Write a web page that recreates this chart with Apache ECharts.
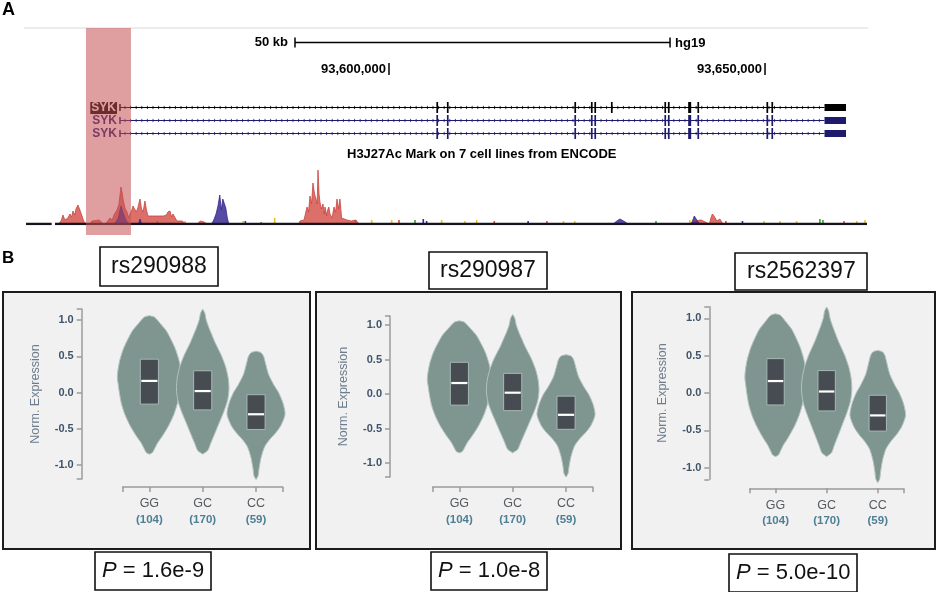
<!DOCTYPE html>
<html><head><meta charset="utf-8">
<script src="https://cdn.jsdelivr.net/npm/echarts@6/dist/echarts.min.js"></script>
<style>html,body{margin:0;padding:0;background:#fff}#c{width:939px;height:592px}</style>
</head><body><div id="c"></div>
<script>
// ================= DATA =================
// Panel A: genomic positions in kb relative to chr9:93,600,000 (hg19)
const chromBaseBp = 93600000;
const viewKb = [-48.40, 63.56];
const highlightKb = [-40.29, -34.31];
const scaleBarKb = [-12.5, 37.37];
const scaleBarLabel = '50 kb';
const assemblyLabel = 'hg19';
const rulerTicksKb = [0, 50];
const geneName = 'SYK';
const intronSpanKb = [-35.77, 57.91];
const utrBlockKb = [57.91, 60.77];
const exonsT1Kb = [[6.30,6.46],[7.70,7.86],[24.65,24.81],[26.85,27.01],[27.31,27.47],[29.51,29.67],[36.62,36.78],[37.09,37.25],[39.78,40.18],[41.01,41.17],[50.19,50.35],[50.85,51.01]];
const exonsT2Kb = [[6.30,6.46],[7.70,7.86],[24.65,24.81],[26.85,27.01],[27.31,27.47],[36.62,36.78],[37.09,37.25],[39.78,40.18],[41.01,41.17],[50.19,50.35],[50.85,51.01]];
const exonsT3Kb = [[6.30,6.46],[7.70,7.86],[24.65,24.81],[26.85,27.01],[27.31,27.47],[36.62,36.78],[37.09,37.25],[39.78,40.18],[41.01,41.17],[50.19,50.35],[50.85,51.01]];
const trackTitle = 'H3J27Ac Mark on 7 cell lines from ENCODE';
const baselineSegmentsKb = [[-48.27,-44.85],[-44.41,63.56]];
const signalRed = [[-44.0,0],[-43.6,3],[-43.35,9],[-43.1,4],[-42.7,6],[-42.42,10],[-42.2,7],[-42.02,13],[-41.8,9],[-41.62,15],[-41.36,19],[-41.1,14],[-40.82,8],[-40.6,3],[-40.3,0],
 [-39.8,0],[-39.5,3],[-38.5,4],[-38.0,0],
 [-37.7,0],[-37.4,3],[-37.10,6],[-36.8,4],[-36.57,9],[-36.17,14],[-35.90,20],[-35.64,37],[-35.45,30],[-35.37,25],[-35.11,16],[-34.84,12],[-34.6,6],[-34.44,10],[-34.2,14],[-34.04,18],[-33.78,20],[-33.6,12],[-33.4,16],[-33.11,25],[-32.9,15],[-32.7,12],[-32.45,23],[-32.25,14],[-32.05,8],[-31.78,8],[-30.0,8],[-29.8,6],[-29.6,9],[-29.39,12],[-29.12,13],[-28.9,7],[-28.72,10],[-28.46,8],[-28.2,3],[-27.5,3],[-27.0,0],
 [-25.5,0],[-25.1,3],[-24.6,2],[-24.2,0],
 [-12.0,0],[-11.84,3],[-11.3,4],[-10.90,17],[-10.7,12],[-10.51,28],[-10.3,20],[-10.11,41],[-9.9,30],[-9.71,25],[-9.55,20],[-9.44,54],[-9.3,30],[-9.18,22],[-9.0,15],[-8.78,20],[-8.6,10],[-8.51,17],[-8.3,8],[-8.24,12],[-8.0,17],[-7.85,10],[-7.58,6],[-7.31,17],[-7.1,12],[-6.91,25],[-6.7,15],[-6.52,25],[-6.3,6],[-6.12,5],[-5.59,4],[-5.0,3],[-4.39,4],[-4.0,0],
 [40.0,0],[40.5,3],[41.5,4],[42.6,0],[42.8,6],[43.0,10],[43.3,7],[43.6,3],[44.0,5],[44.4,0]];
const signalPurple = [[-36.5,0],[-36.0,6],[-35.64,18],[-35.3,10],[-35.0,4],[-34.6,0],
 [-33.3,0],[-33.1,5],[-32.9,0],
 [-23.6,0],[-23.3,4],[-23.0,10],[-22.74,18],[-22.5,29],[-22.3,14],[-22.1,25],[-21.94,27],[-21.7,16],[-21.5,6],[-21.3,0],
 [29.8,0],[30.3,3],[30.7,5],[31.2,3],[31.8,0],
 [40.2,0],[40.6,8],[41.0,3],[41.3,0]];
const noiseYellow = [[-27.1,3],[-19.4,3],[-15.2,6],[-2.3,4],[0.36,4],[7.0,4],[10.1,3],[11.66,4],[23.2,3],[24.7,3],[40.0,4],[49.87,3],[52.0,3],[54.2,3],[62.2,3],[63.3,4]];
const noiseGreen = [[3.46,4],[57.3,5],[57.7,4],[35.5,3],[-17.0,2]];
const noiseBlue = [[-19.1,3],[4.56,5],[5.0,3],[-30.8,3],[18.5,3],[47.0,3]];
const noiseRed = [[-4.5,4],[1.33,4],[14.0,3],[21.0,3],[44.8,3],[60.5,3]];

// Panel B: eQTL violins (same SYK expression data for the 3 SNPs)
const snpIds = ['rs290988', 'rs290987', 'rs2562397'];
const pValues = ['1.6e-9', '1.0e-8', '5.0e-10'];
const genotypes = ['GG', 'GC', 'CC'];
const sampleCounts = [104, 170, 59];
const ggLevels = [1.06, 1.04, 0.95, 0.85, 0.72, 0.60, 0.45, 0.30, 0.20, 0.10, 0.00, -0.15, -0.30, -0.45, -0.60, -0.70, -0.78, -0.83, -0.85];
const ggHalfWidth = [0, 0.094, 0.206, 0.319, 0.413, 0.488, 0.553, 0.591, 0.600, 0.582, 0.563, 0.525, 0.460, 0.366, 0.244, 0.150, 0.094, 0.056, 0];
const gcLevels = [1.15, 1.10, 1.00, 0.90, 0.80, 0.70, 0.60, 0.50, 0.35, 0.20, 0.05, -0.10, -0.25, -0.40, -0.55, -0.70, -0.80, -0.85];
const gcHalfWidth = [0, 0.038, 0.066, 0.113, 0.169, 0.225, 0.291, 0.356, 0.432, 0.478, 0.493, 0.469, 0.403, 0.319, 0.235, 0.150, 0.094, 0];
const ccLevels = [0.57, 0.55, 0.50, 0.40, 0.25, 0.10, 0.00, -0.15, -0.30, -0.45, -0.55, -0.65, -0.75, -0.90, -1.05, -1.15, -1.20];
const ccHalfWidth = [0, 0.094, 0.141, 0.178, 0.235, 0.338, 0.422, 0.507, 0.544, 0.469, 0.375, 0.253, 0.159, 0.094, 0.056, 0.038, 0];
const boxQ1 = [-0.16, -0.24, -0.51];
const boxMedian = [0.16, 0.02, -0.30];
const boxQ3 = [0.46, 0.30, -0.03];
const yTickLabels = [-1.0, -0.5, 0.0, 0.5, 1.0];

// ================= BUILD =================
const FONT = '"Liberation Sans", Arial, Helvetica, sans-serif';
const chart = echarts.init(document.getElementById('c'), null, {renderer: 'canvas'});

function fmtBp(v) { return String(Math.round(v)).replace(/\B(?=(\d{3})+(?!\d))/g, ','); }

const transcripts = [
  {exons: exonsT1Kb, color: '#000000', selected: true},
  {exons: exonsT2Kb, color: '#1e1b6f', selected: false},
  {exons: exonsT3Kb, color: '#1e1b6f', selected: false}
];

function renderGene(params, api) {
  const row = api.value(0);
  const t = transcripts[row];
  const p0 = api.coord([intronSpanKb[0], row]);
  const p1 = api.coord([intronSpanKb[1], row]);
  const y = p0[1];
  const ch = [];
  ch.push({type: 'line', shape: {x1: p0[0], y1: y, x2: p1[0], y2: y}, style: {stroke: t.color, lineWidth: 1}});
  for (let x = p0[0] + 5; x < p1[0] - 2; x += 5.6) {
    ch.push({type: 'line', shape: {x1: x, y1: y - 1.6, x2: x, y2: y + 1.6}, style: {stroke: t.color, lineWidth: 0.8}});
  }
  ch.push({type: 'line', shape: {x1: p0[0], y1: y - 3.5, x2: p0[0], y2: y + 3.5}, style: {stroke: t.color, lineWidth: 1.5}});
  t.exons.forEach(function (e) {
    const xa = api.coord([e[0], row])[0], xb = api.coord([e[1], row])[0];
    const w = Math.max(1.7, xb - xa);
    ch.push({type: 'rect', shape: {x: xa, y: y - 5.5, width: w, height: 11}, style: {fill: t.color}});
  });
  const ua = api.coord([utrBlockKb[0], row])[0], ub = api.coord([utrBlockKb[1], row])[0];
  ch.push({type: 'rect', shape: {x: ua, y: y - 3.5, width: ub - ua, height: 7}, style: {fill: t.color}});
  ch.push({type: 'text', x: p0[0] - 3, y: y + 0.5, style: {
    text: geneName, align: 'right', verticalAlign: 'middle',
    fill: t.selected ? '#ffffff' : t.color, backgroundColor: t.selected ? '#000' : 'transparent',
    padding: t.selected ? [0, 1, 0, 1] : 0, font: 'bold 12px ' + FONT}});
  return {type: 'group', children: ch};
}

function renderScaleBar(params, api) {
  const a = api.coord([api.value(0), 0.5]);
  const b = api.coord([api.value(1), 0.5]);
  const y = a[1];
  return {type: 'group', children: [
    {type: 'line', shape: {x1: a[0], y1: y, x2: b[0], y2: y}, style: {stroke: '#000', lineWidth: 1.3}},
    {type: 'line', shape: {x1: a[0], y1: y - 5, x2: a[0], y2: y + 5}, style: {stroke: '#000', lineWidth: 1.5}},
    {type: 'line', shape: {x1: b[0], y1: y - 5, x2: b[0], y2: y + 5}, style: {stroke: '#000', lineWidth: 1.5}},
    {type: 'text', x: a[0] - 7, y: y, style: {text: scaleBarLabel, align: 'right', verticalAlign: 'middle', font: 'bold 13px ' + FONT, fill: '#000'}},
    {type: 'text', x: b[0] + 5, y: y + 1, style: {text: assemblyLabel, align: 'left', verticalAlign: 'middle', font: 'bold 13px ' + FONT, fill: '#000'}}
  ]};
}

function renderRuler(params, api) {
  const v = api.value(0);
  const p = api.coord([v, 0.5]);
  return {type: 'group', children: [
    {type: 'line', shape: {x1: p[0], y1: p[1] - 6, x2: p[0], y2: p[1] + 6}, style: {stroke: '#000', lineWidth: 1.5}},
    {type: 'text', x: p[0] - 3, y: p[1], style: {text: fmtBp(chromBaseBp + v * 1000), align: 'right', verticalAlign: 'middle', font: 'bold 13px ' + FONT, fill: '#000'}}
  ]};
}

function renderHighlight(params, api) {
  const cs = params.coordSys;
  const xa = api.coord([api.value(0), 0])[0], xb = api.coord([api.value(1), 0])[0];
  return {type: 'rect', shape: {x: xa, y: cs.y, width: xb - xa, height: cs.height}, style: {fill: 'rgba(196,80,82,0.55)'}};
}

const violins = [
  {levels: ggLevels, half: ggHalfWidth},
  {levels: gcLevels, half: gcHalfWidth},
  {levels: ccLevels, half: ccHalfWidth}
];
const BOX_HALF = 0.17;
function renderViolin(params, api) {
  const i = api.value(0);
  const cx = i + 0.5;
  const v = violins[i];
  const right = [], left = [];
  for (let k = 0; k < v.levels.length; k++) {
    right.push(api.coord([cx + v.half[k], v.levels[k]]));
    left.unshift(api.coord([cx - v.half[k], v.levels[k]]));
  }
  const b1 = api.coord([cx - BOX_HALF, boxQ3[i]]);
  const b2 = api.coord([cx + BOX_HALF, boxQ1[i]]);
  const m = api.coord([cx, boxMedian[i]]);
  return {type: 'group', children: [
    {type: 'polygon', shape: {points: right.concat(left), smooth: 0.25}, style: {fill: '#7e9590', stroke: '#b4c3c0', lineWidth: 1}},
    {type: 'rect', shape: {x: b1[0], y: b1[1], width: b2[0] - b1[0], height: b2[1] - b1[1]}, style: {fill: '#474c52', stroke: '#a7b8b5', lineWidth: 1}},
    {type: 'line', shape: {x1: b1[0] + 1, y1: m[1], x2: b2[0] - 1, y2: m[1]}, style: {stroke: '#ffffff', lineWidth: 2.2}}
  ]};
}

const grid = [], xAxis = [], yAxis = [], series = [];
function hiddenAxes(gi, xmin, xmax, ymin, ymax, ycat) {
  xAxis.push({gridIndex: gi, type: 'value', min: xmin, max: xmax, show: false});
  if (ycat) yAxis.push({gridIndex: gi, type: 'category', data: ycat, inverse: true, show: false});
  else yAxis.push({gridIndex: gi, type: 'value', min: ymin, max: ymax, show: false});
}

// grid 0: browser frame + highlight
grid.push({left: 25, top: 28, width: 842, height: 207});
xAxis.push({gridIndex: 0, type: 'value', min: viewKb[0], max: viewKb[1], position: 'top',
  axisLine: {show: true, onZero: false, lineStyle: {color: '#ececec', width: 2}}, axisTick: {show: false}, axisLabel: {show: false}, splitLine: {show: false}});
yAxis.push({gridIndex: 0, type: 'value', min: 0, max: 1, show: false});
// grid 1: scale bar
grid.push({left: 25, top: 36, width: 842, height: 13}); hiddenAxes(1, viewKb[0], viewKb[1], 0, 1);
// grid 2: ruler
grid.push({left: 25, top: 63, width: 842, height: 12}); hiddenAxes(2, viewKb[0], viewKb[1], 0, 1);
// grid 3: genes
grid.push({left: 25, top: 101, width: 842, height: 39}); hiddenAxes(3, viewKb[0], viewKb[1], 0, 0, ['t1', 't2', 't3']);
// grid 4: signal
grid.push({left: 25, top: 160, width: 842, height: 64}); hiddenAxes(4, viewKb[0], viewKb[1], 0, 64);

series.push({type: 'custom', xAxisIndex: 1, yAxisIndex: 1, data: [scaleBarKb], renderItem: renderScaleBar, silent: true});
series.push({type: 'custom', xAxisIndex: 2, yAxisIndex: 2, data: rulerTicksKb.map(function (v) { return [v]; }), renderItem: renderRuler, silent: true});
series.push({type: 'custom', xAxisIndex: 3, yAxisIndex: 3, data: [[0], [1], [2]], renderItem: renderGene, silent: true});
series.push({type: 'line', xAxisIndex: 4, yAxisIndex: 4, data: signalRed, symbol: 'none', silent: true,
  lineStyle: {width: 0.8, color: '#c8443f'}, areaStyle: {color: 'rgba(214,86,80,0.85)', opacity: 1}});
series.push({type: 'line', xAxisIndex: 4, yAxisIndex: 4, data: signalPurple, symbol: 'none', silent: true,
  lineStyle: {width: 0.8, color: '#35288a'}, areaStyle: {color: 'rgba(58,42,146,0.85)', opacity: 1}});
[[noiseYellow, '#e8c51c'], [noiseGreen, '#3e9a3c'], [noiseBlue, '#2e2a9a'], [noiseRed, '#d8483c']].forEach(function (n) {
  series.push({type: 'bar', xAxisIndex: 4, yAxisIndex: 4, data: n[0], barWidth: 1.6, barGap: '-100%', itemStyle: {color: n[1]}, silent: true});
});
const baseData = [];
baselineSegmentsKb.forEach(function (s, i) { if (i) baseData.push('-'); baseData.push([s[0], 0], [s[1], 0]); });
series.push({type: 'line', xAxisIndex: 4, yAxisIndex: 4, data: baseData, symbol: 'none', silent: true, connectNulls: false,
  lineStyle: {width: 2.6, color: '#151520'}, z: 3});
series.push({type: 'custom', xAxisIndex: 0, yAxisIndex: 0, data: [highlightKb], renderItem: renderHighlight, silent: true, z: 10});

// Panel B
const frames = [{left: 3, width: 307}, {left: 316, width: 305}, {left: 632, width: 303}];
const plots = [
  {left: 122.7, top: 309, width: 160, height: 170, ymin: -1.193, ymax: 1.152, yoff: 41, xoff: 8},
  {left: 432.7, top: 316, width: 160, height: 161, ymin: -1.20, ymax: 1.13, yoff: 42.7, xoff: 10},
  {left: 750, top: 306.7, width: 153.3, height: 172.6, ymin: -1.155, ymax: 1.155, yoff: 40.7, xoff: 9}
];
frames.forEach(function (f) {
  const gi = grid.length;
  grid.push({left: f.left, top: 292, width: f.width, height: 257, show: true, backgroundColor: '#f1f1f1', borderColor: '#1c1c1c', borderWidth: 2});
  hiddenAxes(gi, 0, 1, 0, 1);
});
const axisCol = '#9b9b9b';
plots.forEach(function (p) {
  const gi = grid.length;
  grid.push({left: p.left, top: p.top, width: p.width, height: p.height});
  xAxis.push({gridIndex: gi, type: 'value', min: 0, max: 3, offset: p.xoff, position: 'bottom', splitLine: {show: false},
    axisLine: {show: true, onZero: false, lineStyle: {color: axisCol, width: 1.5}},
    axisTick: {show: true, length: 5, customValues: [0, 0.5, 1.5, 2.5, 3], lineStyle: {color: axisCol, width: 1.5}},
    axisLabel: {customValues: [0.5, 1.5, 2.5], margin: 9,
      formatter: function (v) { const k = Math.floor(v); return '{g|' + genotypes[k] + '}\n{n|(' + sampleCounts[k] + ')}'; },
      rich: {g: {fontFamily: FONT, fontSize: 12.5, color: '#555a5e', lineHeight: 16},
             n: {fontFamily: FONT, fontSize: 11.5, fontWeight: 'bold', color: '#4e7f95', lineHeight: 16}}}});
  yAxis.push({gridIndex: gi, type: 'value', min: p.ymin, max: p.ymax, offset: p.yoff, position: 'left', splitLine: {show: false},
    axisLine: {show: true, onZero: false, lineStyle: {color: axisCol, width: 1.5}},
    axisTick: {show: true, length: 5, customValues: [p.ymin].concat(yTickLabels, [p.ymax]), lineStyle: {color: axisCol, width: 1.5}},
    axisLabel: {customValues: yTickLabels, margin: 8, formatter: function (v) { return v.toFixed(1); },
      fontFamily: FONT, fontSize: 11, fontWeight: 'bold', color: '#405469'},
    name: 'Norm. Expression', nameLocation: 'middle', nameGap: 40,
    nameTextStyle: {fontFamily: FONT, fontSize: 12.5, color: '#6d7d8c'}});
  series.push({type: 'custom', xAxisIndex: gi, yAxisIndex: gi, data: [[0], [1], [2]], renderItem: renderViolin, silent: true, z: 5});
});

const titleBox = {backgroundColor: '#ffffff', borderColor: '#111', borderWidth: 1.6};
const titles = [
  {text: 'A', left: 2, top: 1, padding: 0, textStyle: {fontFamily: FONT, fontSize: 18, fontWeight: 'bold', color: '#000'}},
  {text: 'B', left: 2, top: 250, padding: 0, textStyle: {fontFamily: FONT, fontSize: 17, fontWeight: 'bold', color: '#000'}},
  {text: trackTitle, left: 347, top: 148, padding: 0, textStyle: {fontFamily: FONT, fontSize: 13, fontWeight: 'bold', color: '#000'}}
];
const snpBoxes = [{left: 100, top: 247, pad: [7, 11]}, {left: 429, top: 252, pad: [6, 11]}, {left: 735, top: 253, pad: [6, 12]}];
const pBoxes = [{left: 95, top: 552}, {left: 431, top: 552}, {left: 729, top: 554}];
snpIds.forEach(function (s, i) {
  titles.push(Object.assign({text: s, left: snpBoxes[i].left, top: snpBoxes[i].top, padding: snpBoxes[i].pad,
    textStyle: {fontFamily: FONT, fontSize: 23, fontWeight: 'normal', color: '#111', lineHeight: 25}}, titleBox));
  titles.push(Object.assign({text: '{i|P} = ' + pValues[i], left: pBoxes[i].left, top: pBoxes[i].top, padding: [7, 7],
    textStyle: {fontFamily: FONT, fontSize: 22, fontWeight: 'normal', color: '#111', lineHeight: 24,
      rich: {i: {fontFamily: FONT, fontSize: 22, fontStyle: 'italic', color: '#111', lineHeight: 24}}}}, titleBox));
});

chart.setOption({animation: false, backgroundColor: '#ffffff', title: titles, grid: grid, xAxis: xAxis, yAxis: yAxis, series: series});
</script></body></html>
